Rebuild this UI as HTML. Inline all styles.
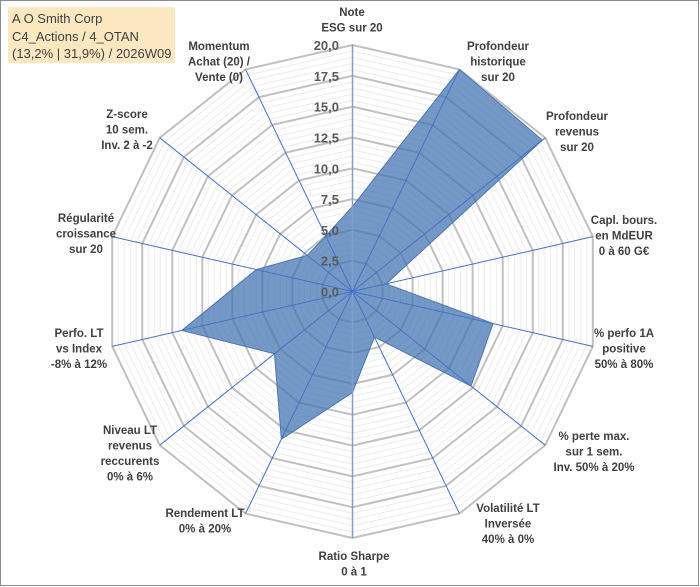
<!DOCTYPE html>
<html><head><meta charset="utf-8"><style>
body{margin:0;background:#fff}
#c{position:relative;width:700px;height:587px;overflow:hidden}
svg{position:absolute;left:0;top:0}
.t{position:absolute;left:8px;top:7px;width:167px;height:56px;background:#fce8c0;font:13px "Liberation Sans",sans-serif;color:#404040;line-height:17.5px;padding:3px 0 0 4px;box-sizing:border-box}
</style></head><body>
<div id="c">
<svg id="s" width="700" height="587"></svg>
<div class="t">A O Smith Corp<br>C4_Actions / 4_OTAN<br>(13,2% | 31,9%) / 2026W09</div>
</div>
<script>
const categories=[["Note","ESG sur 20"],["Profondeur","historique","sur 20"],["Profondeur","revenus","sur 20"],["Capl. bours.","en MdEUR","0 à 60 G€"],["% perfo 1A","positive","50% à 80%"],["% perte max.","sur 1 sem.","Inv. 50% à 20%"],["Volatilité LT","Inversée","40% à 0%"],["Ratio Sharpe","0 à 1"],["Rendement LT","0% à 20%"],["Niveau LT","revenus","reccurents","0% à 6%"],["Perfo. LT","vs Index","-8% à 12%"],["Régularité","croissance","sur 20"],["Z-score","10 sem.","Inv. 2 à -2"],["Momentum","Achat (20) /","Vente (0)"]];
const values=[6.9,20,19.7,2.8,11.7,12.3,4.1,8.2,13.3,8.1,14.2,8.0,4.7,5.0];
const tickLabels=["0,0","2,5","5,0","7,5","10,0","12,5","15,0","17,5","20,0"];
const labelPos=[[352,12],[498,46],[577,116],[624,220],[624,333],[594,436],[508,508],[354,556],[205,513],[130,430],[79,333],[86,218],[127,114],[219,46]];
const NS="http://www.w3.org/2000/svg",svg=document.getElementById('s');
const cx=352.5,cy=291.5,R=246.5,MAX=20,N=categories.length;
function pt(i,v){const a=2*Math.PI*i/N,r=v/MAX*R;return [cx+r*Math.sin(a),cy-r*Math.cos(a)];}
function mk(tag,at){const e=document.createElementNS(NS,tag);for(const k in at)e.setAttribute(k,at[k]);svg.appendChild(e);return e;}
const bd=mk('rect',{x:0.5,y:0.5,width:698,height:585,fill:'none',stroke:'#8c8c8c'});


for(let k=1;k<=40;k++){const v=k*0.5,maj=k%5==0;
 const p=[];for(let i=0;i<N;i++)p.push(pt(i,v).join(','));
 const g=mk('polygon',{points:p.join(' '),fill:'none',stroke:maj?'#c0c0c0':'#ececec','stroke-width':maj?2:1});
 
 }
const dp=values.map((v,i)=>pt(i,v).join(',')).join(' ');
const poly=mk('polygon',{points:dp,fill:'rgba(64,113,178,0.72)',stroke:'#4a76b8','stroke-width':1});


for(let i=0;i<N;i++){const e=pt(i,MAX);
 const l=mk('line',{x1:cx,y1:cy,x2:e[0],y2:e[1],stroke:i==0||i==7?'#7f9fd0':'#4472c4','stroke-width':i==0||i==7?1.5:1});
 
 }
tickLabels.forEach((t,k)=>{const v=k*2.5;
 const e=mk('text',{x:339,y:cy-v/MAX*R+5,'text-anchor':'end','font-family':'Liberation Sans, sans-serif','font-size':13,'font-weight':'bold',fill:'#595959'});
 e.textContent=t;
 
 });
categories.forEach((lines,i)=>{const [x,y]=labelPos[i];
 const e=mk('text',{x:x,y:y+4,'text-anchor':'middle','font-family':'Liberation Sans, sans-serif','font-size':11.5,'font-weight':'bold',fill:'#404040'});
 
 
 lines.forEach((s,j)=>{const ts=document.createElementNS(NS,'tspan');ts.setAttribute('x',x);ts.setAttribute('dy',j?15.5:0);ts.textContent=s;e.appendChild(ts);});});
</script>
</body></html>
